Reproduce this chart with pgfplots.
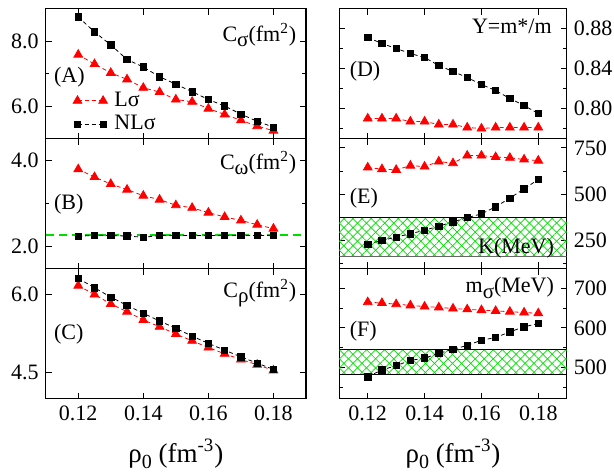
\documentclass[border=0pt]{standalone}
\usepackage{pgfplots}
\pgfplotsset{compat=1.18}
\usetikzlibrary{patterns.meta}
\usepackage{fontspec}
\setmainfont{Liberation Serif}
\definecolor{hgreen}{RGB}{0,220,0}
\newcommand{\sub}[1]{\raisebox{-0.55ex}{\fontsize{10.5}{12}\selectfont #1}}
\tikzset{lab/.style={font=\fontsize{11}{13}\selectfont}}
\pgfplotsset{
  panel/.style={
    scale only axis, anchor=north west, height=65pt,
    xmin=0.11, xmax=0.19,
    xtick={0.12,0.14,0.16,0.18},
    xticklabels={},
    axis line style={line width=0.65pt},
    every tick/.style={line width=0.5pt, black},
    major tick length=3pt, minor tick length=1.8pt,
    tick label style={font=\fontsize{11}{13}\selectfont},
    /pgf/number format/assume math mode=true,
    tick align=inside,
    xtick pos=both, ytick pos=both,
  },
  leftp/.style={panel, width=130.15pt, yticklabel pos=left},
  rightp/.style={panel, width=113.7pt, yticklabel pos=right},
  nl/.style={black, line width=0.4pt, dash pattern=on 2pt off 1.5pt, mark=square*, mark size=1.6pt, mark options={solid}},
  ll/.style={red, line width=0.4pt, dash pattern=on 2pt off 1.5pt, mark=triangle*, mark size=2.5pt, mark options={solid}},
  xl/.style={xlabel={ρ\raisebox{-0.5ex}{\fontsize{10}{12}\selectfont 0} (fm\textsuperscript{-3})},
    xlabel style={font=\fontsize{13.5}{15}\selectfont, at={(axis description cs:0.5,-0.425)}, anchor=center}},
}
\begin{document}
\begin{tikzpicture}
\path[use as bounding box] (0,0) rectangle (307pt,-236pt);
% ---------- (A)
\begin{axis}[leftp, at={(22.85pt,-4.25pt)}, ymin=5, ymax=9, ytick={6,8}, yticklabels={6.0,8.0}, minor ytick={7},
  legend style={at={(axis description cs:0.104,0.2)}, anchor=west, draw=none, fill=none, font=\fontsize{11}{13}\selectfont, row sep=-1pt, inner sep=0pt, column sep=1.5pt},
  legend cell align=left,
  legend image code/.code={\draw[mark repeat=1,#1] plot coordinates {(0cm,0cm) (0.45cm,0cm)};}]
\addplot[ll] coordinates {(0.12,7.58)(0.125,7.29)(0.13,7.02)(0.135,6.82)(0.14,6.56)(0.145,6.43)(0.15,6.20)(0.155,6.13)(0.16,5.92)(0.165,5.74)(0.17,5.56)(0.175,5.38)(0.18,5.24)};
\addlegendentry{Lσ}
\addplot[nl] coordinates {(0.12,8.74)(0.125,8.28)(0.13,7.88)(0.135,7.43)(0.14,7.20)(0.145,6.90)(0.15,6.67)(0.155,6.44)(0.16,6.20)(0.165,6.00)(0.17,5.75)(0.175,5.53)(0.18,5.35)};
\addlegendentry{NLσ}
\node[lab, anchor=west] at (rel axis cs:0.005,0.475) {(A)};
\node[lab, anchor=east] at (rel axis cs:0.99,0.796) {C\sub{σ}(fm\textsuperscript{2})};
\end{axis}
% ---------- (B)
\begin{axis}[leftp, at={(22.85pt,-69.25pt)}, ymin=1.5, ymax=4.5, ytick={2,4}, yticklabels={2.0,4.0}, minor ytick={3}]
\addplot[hgreen, line width=0.9pt, dash pattern=on 4pt off 2.5pt] coordinates {(0.11,2.27)(0.19,2.27)};
\addplot[ll] coordinates {(0.12,3.79)(0.125,3.61)(0.13,3.45)(0.135,3.32)(0.14,3.18)(0.145,3.09)(0.15,2.96)(0.155,2.90)(0.16,2.79)(0.165,2.69)(0.17,2.61)(0.175,2.51)(0.18,2.42)};
\addplot[nl] coordinates {(0.12,2.24)(0.125,2.27)(0.13,2.26)(0.135,2.25)(0.14,2.22)(0.145,2.26)(0.15,2.26)(0.155,2.26)(0.16,2.26)(0.165,2.26)(0.17,2.26)(0.175,2.26)(0.18,2.26)};
\node[lab, anchor=west] at (rel axis cs:0.005,0.496) {(B)};
\node[lab, anchor=east] at (rel axis cs:0.99,0.81) {C\sub{ω}(fm\textsuperscript{2})};
\end{axis}
% ---------- (C)
\begin{axis}[leftp, xl, at={(22.85pt,-134.25pt)}, ymin=4.0, ymax=6.5, ytick={4.5,6.0}, yticklabels={4.5,6.0},
  xticklabels={0.12,0.14,0.16,0.18}]
\addplot[ll] coordinates {(0.12,6.17)(0.125,6.00)(0.13,5.82)(0.135,5.67)(0.14,5.51)(0.145,5.38)(0.15,5.24)(0.155,5.11)(0.16,4.98)(0.165,4.86)(0.17,4.75)(0.175,4.65)(0.18,4.54)};
\addplot[nl] coordinates {(0.12,6.31)(0.125,6.13)(0.13,5.95)(0.135,5.79)(0.14,5.64)(0.145,5.49)(0.15,5.35)(0.155,5.20)(0.16,5.06)(0.165,4.93)(0.17,4.80)(0.175,4.68)(0.18,4.56)};
\node[lab, anchor=west] at (rel axis cs:0.005,0.496) {(C)};
\node[lab, anchor=east] at (rel axis cs:0.99,0.81) {C\sub{ρ}(fm\textsuperscript{2})};
\end{axis}
% ---------- (D)
\begin{axis}[rightp, at={(169.65pt,-4.25pt)}, ymin=0.77, ymax=0.90, ytick={0.80,0.84,0.88}, yticklabels={0.80,0.84,0.88}, minor ytick={0.78,0.82,0.86}]
\addplot[ll] coordinates {(0.12,0.790)(0.125,0.790)(0.13,0.790)(0.135,0.787)(0.14,0.787)(0.145,0.784)(0.15,0.784)(0.155,0.781)(0.16,0.780)(0.165,0.781)(0.17,0.781)(0.175,0.781)(0.18,0.781)};
\addplot[nl] coordinates {(0.12,0.871)(0.125,0.865)(0.13,0.860)(0.135,0.855)(0.14,0.851)(0.145,0.843)(0.15,0.837)(0.155,0.831)(0.16,0.824)(0.165,0.818)(0.17,0.810)(0.175,0.803)(0.18,0.795)};
\node[lab, anchor=west] at (rel axis cs:0.015,0.514) {(D)};
\node[lab, anchor=east] at (rel axis cs:0.965,0.86) {Y=m*/m};
\end{axis}
% ---------- (E)
\begin{axis}[rightp, at={(169.65pt,-69.25pt)}, ymin=100, ymax=800, ytick={250,500,750}, yticklabels={250,500,750}, minor ytick={125,375,625}]
\addplot[draw=none, pattern={Lines[angle=45,distance=3.2pt,line width=0.35pt]}, pattern color=hgreen] coordinates {(0.11,165)(0.19,165)(0.19,375)(0.11,375)} --cycle;
\addplot[draw=none, pattern={Lines[angle=-45,distance=3.2pt,line width=0.35pt]}, pattern color=hgreen] coordinates {(0.11,165)(0.19,165)(0.19,375)(0.11,375)} --cycle;
\addplot[black, line width=0.5pt] coordinates {(0.11,375)(0.19,375)};
\addplot[black!60, line width=0.9pt] coordinates {(0.11,165)(0.19,165)};
\addplot[ll] coordinates {(0.12,644)(0.125,635)(0.13,631)(0.135,654)(0.14,649)(0.145,676)(0.15,667)(0.155,708)(0.16,708)(0.165,700)(0.17,696)(0.175,687)(0.18,681)};
\addplot[nl] coordinates {(0.12,231)(0.125,251)(0.13,269)(0.135,287)(0.14,306)(0.145,328)(0.15,351)(0.155,374)(0.16,394)(0.165,432)(0.17,479)(0.175,529)(0.18,579)};
\node[lab, anchor=west] at (rel axis cs:0.015,0.54) {(E)};
\node[lab, anchor=east] at (rel axis cs:0.975,0.155) {K(MeV)};
\end{axis}
% ---------- (F)
\begin{axis}[rightp, xl, at={(169.65pt,-134.25pt)}, ymin=422, ymax=750, ytick={500,600,700}, yticklabels={500,600,700}, minor ytick={450,550,650},
  xticklabels={0.12,0.14,0.16,0.18}]
\addplot[draw=none, pattern={Lines[angle=45,distance=3.2pt,line width=0.35pt]}, pattern color=hgreen] coordinates {(0.11,482)(0.19,482)(0.19,546)(0.11,546)} --cycle;
\addplot[draw=none, pattern={Lines[angle=-45,distance=3.2pt,line width=0.35pt]}, pattern color=hgreen] coordinates {(0.11,482)(0.19,482)(0.19,546)(0.11,546)} --cycle;
\addplot[black, line width=0.5pt] coordinates {(0.11,546)(0.19,546)};
\addplot[black, line width=0.5pt] coordinates {(0.11,482)(0.19,482)};
\addplot[ll] coordinates {(0.12,665)(0.125,663)(0.13,660)(0.135,657)(0.14,654)(0.145,652)(0.15,649)(0.155,647)(0.16,645)(0.165,643)(0.17,641)(0.175,639)(0.18,637)};
\addplot[nl] coordinates {(0.12,477)(0.125,494)(0.13,505)(0.135,518)(0.14,524)(0.145,536)(0.15,546)(0.155,556)(0.16,569)(0.165,576)(0.17,590)(0.175,603)(0.18,611)};
\node[lab, anchor=west] at (rel axis cs:0.015,0.52) {(F)};
\node[lab, anchor=east] at (rel axis cs:0.975,0.85) {m\sub{σ}(MeV)};
\end{axis}
\end{tikzpicture}
\end{document}
